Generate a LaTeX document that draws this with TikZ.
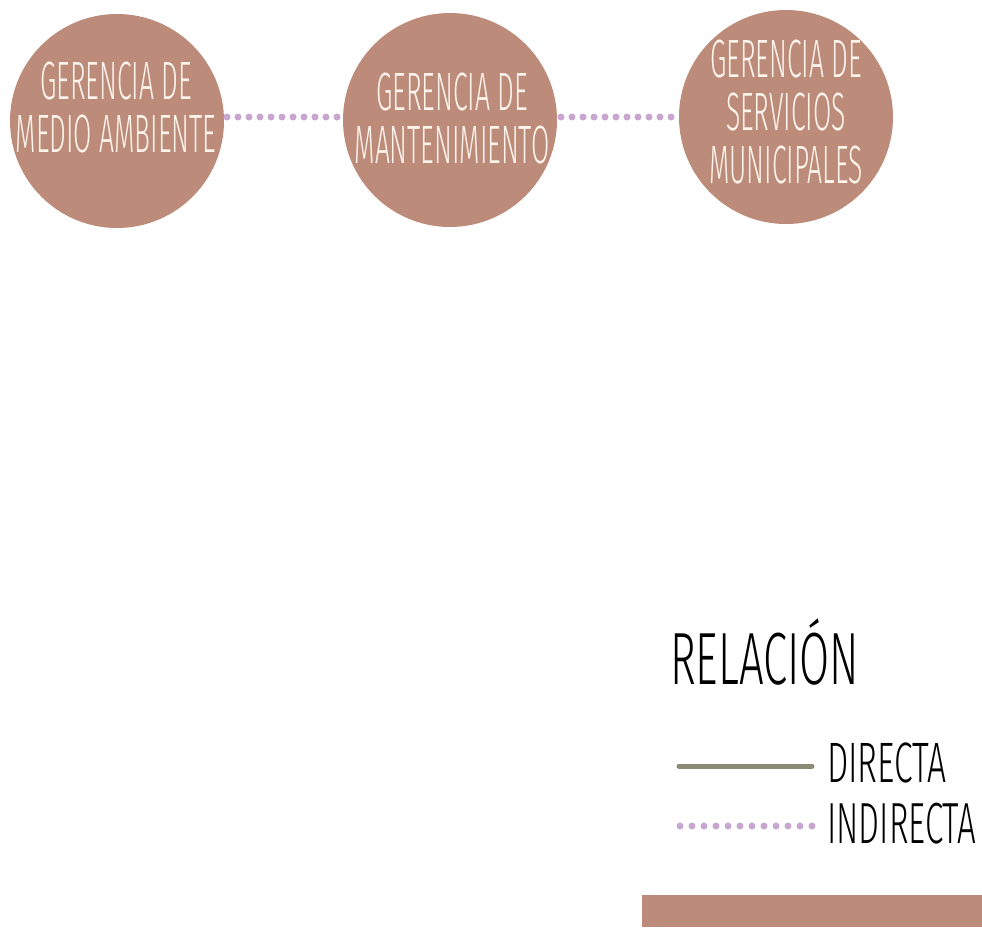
\documentclass[tikz,border=0pt]{standalone}
\usepackage{fontspec}
\newfontfamily\thinfont{Fira Sans Light}[FakeStretch=0.49]
\newfontfamily\legendfont{Fira Sans Light}[FakeStretch=0.59]
\newfontfamily\legendnarrow{Fira Sans Light}[FakeStretch=0.57]
\definecolor{rosewood}{HTML}{BC8B7A}
\definecolor{cream}{HTML}{FDF4EC}
\definecolor{lilac}{HTML}{C8A6CF}
\definecolor{olive}{HTML}{8B8A74}
\tikzset{
  bubble/.style={circle, fill=rosewood, minimum size=214pt, inner sep=0pt},
  btext/.style={text=cream, align=center, inner sep=0pt,
    font=\thinfont\fontsize{54}{53}\selectfont},
  dotted link/.style={draw=lilac, line width=7pt, line cap=round,
    dash pattern=on 0pt off 11pt},
  direct link/.style={draw=olive, line width=5pt, line cap=round},
  legendtext/.style={anchor=base west, inner sep=0pt, text=black}
}
\begin{document}
\begin{tikzpicture}[x=1pt, y=-1pt]
  \useasboundingbox (0,0) rectangle (982,927);
  % the three departments
  \node[bubble] (c1) at (117,121) {};
  \node[bubble] (c2) at (450,120) {};
  \node[bubble] (c3) at (786,117) {};
  \node[btext] (t1) at (116,108) {GERENCIA DE\\MEDIO AMBIENTE};
  \node[btext] (t2) at (452,118) {GERENCIA DE\\MANTENIMIENTO};
  \node[btext] (t3) at (786,112) {GERENCIA DE\\SERVICIOS\\MUNICIPALES};
  % indirect relations between them
  \coordinate (l1a) at (227,117);
  \coordinate (l1b) at (338,117);
  \coordinate (l2a) at (561,117);
  \coordinate (l2b) at (672,117);
  \draw[dotted link] (l1a) -- (l1b);
  \draw[dotted link] (l2a) -- (l2b);
  % legend
  \node[legendtext, font=\legendfont\fontsize{74}{80}\selectfont] (rel) at (670,684) {RELACIÓN};
  \coordinate (d1) at (679,766);
  \coordinate (d2) at (812,766);
  \draw[direct link] (d1) -- (d2);
  \node[legendtext, font=\legendfont\fontsize{57}{60}\selectfont] (dir) at (827,782) {DIRECTA};
  \coordinate (i1) at (680,826);
  \coordinate (i2) at (812,826);
  \draw[dotted link, dash pattern=on 0pt off 12pt] (i1) -- (i2);
  \node[legendtext, font=\legendnarrow\fontsize{58}{62}\selectfont] (ind) at (827,843) {INDIRECTA};
  % footer band
  \fill[rosewood] (642,895) rectangle (982,927);
\end{tikzpicture}
\end{document}
